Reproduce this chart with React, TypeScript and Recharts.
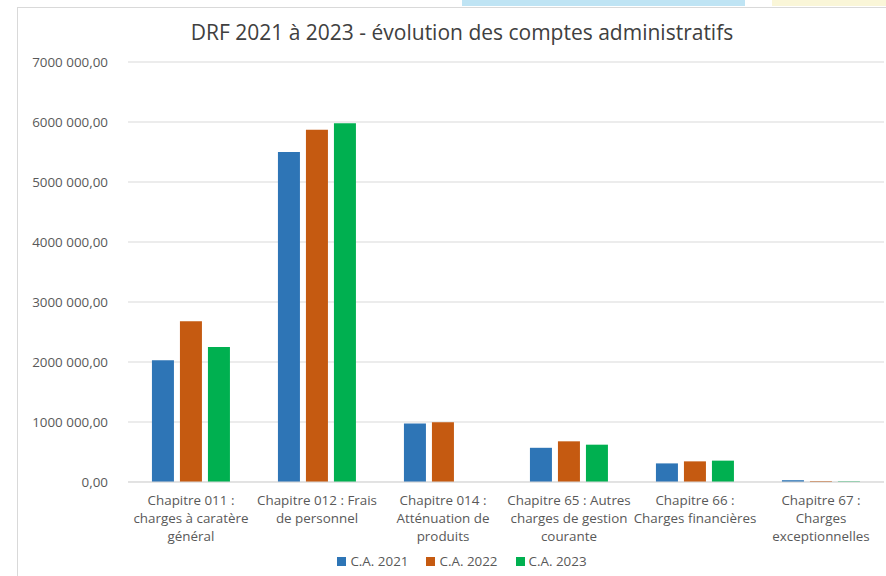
import React from 'react';
import { BarChart, Bar, XAxis, YAxis, CartesianGrid } from 'recharts';

// Données
const categories = ['Chapitre 011', 'Chapitre 012', 'Chapitre 014', 'Chapitre 65', 'Chapitre 66', 'Chapitre 67'];
const categoryLines = [
  ['Chapitre 011 :', 'charges à caratère', 'général'],
  ['Chapitre 012 : Frais', 'de personnel'],
  ['Chapitre 014 :', 'Atténuation de', 'produits'],
  ['Chapitre 65 : Autres', 'charges de gestion', 'courante'],
  ['Chapitre 66 :', 'Charges financières'],
  ['Chapitre 67 :', 'Charges', 'exceptionnelles'],
];
const ca2021 = [2030000, 5500000, 975000, 570000, 310000, 30000];
const ca2022 = [2680000, 5870000, 995000, 678000, 344000, 15000];
const ca2023 = [2250000, 5980000, 0, 622000, 356000, 10000];
const yTicks = [0, 1000000, 2000000, 3000000, 4000000, 5000000, 6000000, 7000000];
const yTickLabels = ['0,00', '1000 000,00', '2000 000,00', '3000 000,00', '4000 000,00', '5000 000,00', '6000 000,00', '7000 000,00'];

const series = [
  { key: 'ca2021', name: 'C.A. 2021', color: '#2E75B6' },
  { key: 'ca2022', name: 'C.A. 2022', color: '#C55A11' },
  { key: 'ca2023', name: 'C.A. 2023', color: '#00B050' },
];

const data = categories.map((c, i) => ({
  name: c,
  ca2021: ca2021[i],
  ca2022: ca2022[i],
  ca2023: ca2023[i],
}));

const FONT = '"Open Sans", sans-serif';
const TEXT = '#595959';

const CategoryTick = (props: any) => {
  const { x, y, index } = props;
  const lines = categoryLines[index] || [];
  return (
    <text x={x} y={y} textAnchor="middle" fill={TEXT} fontSize={13.4} fontFamily={FONT}>
      {lines.map((l, i) => (
        <tspan key={i} x={x} dy={i === 0 ? 15 : 18}>{l}</tspan>
      ))}
    </text>
  );
};

export default function App() {
  return (
    <div style={{ position: 'absolute', left: 0, top: 0, width: 886, height: 576, background: '#fff', overflow: 'hidden' }}>
      {/* bandeaux décoratifs en haut */}
      <div style={{ position: 'absolute', left: 462, top: 0, width: 283, height: 6, background: '#BFE4F4' }} />
      <div style={{ position: 'absolute', left: 772, top: 0, width: 114, height: 6, background: '#FAF6D8' }} />
      {/* cadre du graphique */}
      <div style={{ position: 'absolute', left: 17, top: 7, width: 900, height: 600, border: '1px solid #d9d9d9', boxSizing: 'border-box' }} />
      <div style={{ position: 'absolute', left: 17, top: 18, width: 890, textAlign: 'center', fontFamily: FONT, fontSize: 21, color: '#404040' }}>
        DRF 2021 à 2023 - évolution des comptes administratifs
      </div>
      <div style={{ position: 'absolute', left: 0, top: 0 }}>
        <BarChart
          width={886}
          height={576}
          data={data}
          margin={{ top: 62, right: 2, bottom: 64, left: 10 }}
          barCategoryGap="19%"
          barGap={6}
        >
          <CartesianGrid vertical={false} stroke="#d9d9d9" />
          <XAxis
            dataKey="name"
            height={30}
            axisLine={{ stroke: '#d9d9d9' }}
            tickLine={false}
            interval={0}
            tick={<CategoryTick />}
          />
          <YAxis
            width={118}
            domain={[0, 7000000]}
            ticks={yTicks}
            axisLine={false}
            tickLine={false}
            tickSize={0}
            tickMargin={20}
            tickFormatter={(v: number) => yTickLabels[yTicks.indexOf(v)]}
            tick={{ fill: TEXT, fontSize: 13.4, fontFamily: FONT }}
          />
          {series.map(s => (
            <Bar key={s.key} dataKey={s.key} name={s.name} fill={s.color} isAnimationActive={false} />
          ))}
        </BarChart>
      </div>
      {/* légende */}
      <div style={{ position: 'absolute', left: 17, top: 552, width: 890, display: 'flex', justifyContent: 'center', gap: 18, fontFamily: FONT, fontSize: 13.4, color: TEXT }}>
        {series.map(s => (
          <span key={s.key} style={{ display: 'flex', alignItems: 'center' }}>
            <span style={{ display: 'inline-block', width: 9, height: 9, background: s.color, marginRight: 4 }} />
            {s.name}
          </span>
        ))}
      </div>
    </div>
  );
}
